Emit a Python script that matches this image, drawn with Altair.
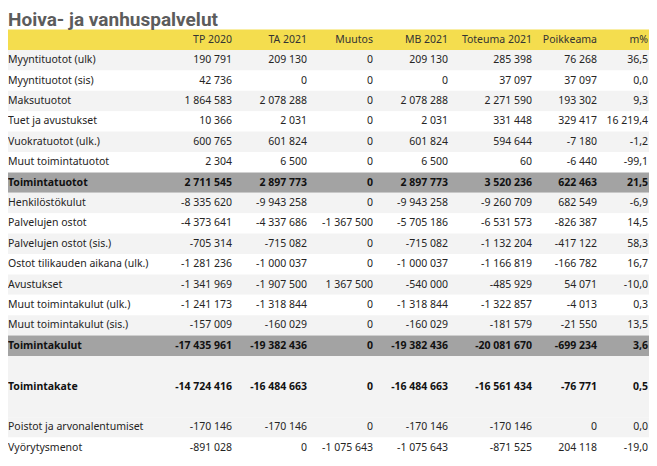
import altair as alt
import pandas as pd

title_text = "Hoiva- ja vanhuspalvelut"
columns = ["TP 2020", "TA 2021", "Muutos", "MB 2021", "Toteuma 2021", "Poikkeama", "m%"]
labels = [
    "Myyntituotot (ulk)", "Myyntituotot (sis)", "Maksutuotot", "Tuet ja avustukset",
    "Vuokratuotot (ulk.)", "Muut toimintatuotot", "Toimintatuotot", "Henkilöstökulut",
    "Palvelujen ostot", "Palvelujen ostot (sis.)", "Ostot tilikauden aikana (ulk.)",
    "Avustukset", "Muut toimintakulut (ulk.)", "Muut toimintakulut (sis.)", "Toimintakulut",
    "Toimintakate", "Poistot ja arvonalentumiset", "Vyörytysmenot",
]
tp2020 = [190791, 42736, 1864583, 10366, 600765, 2304, 2711545, -8335620, -4373641, -705314,
          -1281236, -1341969, -1241173, -157009, -17435961, -14724416, -170146, -891028]
ta2021 = [209130, 0, 2078288, 2031, 601824, 6500, 2897773, -9943258, -4337686, -715082,
          -1000037, -1907500, -1318844, -160029, -19382436, -16484663, -170146, 0]
muutos = [0, 0, 0, 0, 0, 0, 0, 0, -1367500, 0, 0, 1367500, 0, 0, 0, 0, 0, -1075643]
mb2021 = [209130, 0, 2078288, 2031, 601824, 6500, 2897773, -9943258, -5705186, -715082,
          -1000037, -540000, -1318844, -160029, -19382436, -16484663, -170146, -1075643]
toteuma = [285398, 37097, 2271590, 331448, 594644, 60, 3520236, -9260709, -6531573, -1132204,
           -1166819, -485929, -1322857, -181579, -20081670, -16561434, -170146, -871525]
poikkeama = [76268, 37097, 193302, 329417, -7180, -6440, 622463, 682549, -826387, -417122,
             -166782, 54071, -4013, -21550, -699234, -76771, 0, 204118]
mpct = [36.5, 0.0, 9.3, 16219.4, -1.2, -99.1, 21.5, -6.9, 14.5, 58.3, 16.7, -10.0, 0.3, 13.5,
        3.6, 0.5, 0.0, -19.0]
bold_rows = ["Toimintatuotot", "Toimintakulut", "Toimintakate"]
total_rows = ["Toimintatuotot", "Toimintakulut"]

# ---- layout (not data) ----
W, H = 641, 450
TOP = 42.0
RH = (H - TOP) / 20
slots = list(range(15)) + [16, 18, 19]
col_x = [224, 299, 365, 440, 524, 589, 640]
FONT = "Noto Sans"
FS = 10.5


def fmt_int(v):
    s = f"{abs(int(v)):,}".replace(",", " ")
    return ("-" if v < 0 else "") + s


def fmt_pct(v):
    n = int(round(abs(v) * 10))
    s = f"{n // 10:,}".replace(",", " ") + "," + str(n % 10)
    return ("-" if v < 0 else "") + s


def ypix(slot):
    return TOP + slot * RH


series = [tp2020, ta2021, muutos, mb2021, toteuma, poikkeama]
cells = []
for i, lab in enumerate(labels):
    for j, col in enumerate(columns):
        txt = fmt_pct(mpct[i]) if col == "m%" else fmt_int(series[j][i])
        cells.append({"row": lab, "col": col, "text": txt, "x": col_x[j],
                      "y": ypix(slots[i]) + RH / 2, "bold": lab in bold_rows})
cells_df = pd.DataFrame(cells)

label_df = pd.DataFrame({"row": labels, "y": [ypix(s) + RH / 2 for s in slots],
                         "bold": [l in bold_rows for l in labels]})
header_df = pd.DataFrame({"col": columns, "x": col_x, "y": [ypix(-1) + RH / 2 + 0.5] * len(columns)})

# background bands
bands = []
for i, lab in enumerate(labels):
    s = slots[i]
    if lab in total_rows:
        color = "#a3a3a3"
    elif lab == "Vyörytysmenot":
        color = "#ffffff"
    elif s >= 15:
        color = "#f3f3f3"
    else:
        k = s if s < 6 else s - 7
        color = "#f3f3f3" if k % 2 == 0 else "#ffffff"
    y0, y1 = ypix(s), ypix(s + 1)
    if lab == "Toimintakate":
        y0, y1 = ypix(15), ypix(18)
    bands.append({"row": lab, "y": y0, "y2": y1, "color": color})
bands.append({"row": "header", "y": ypix(-1), "y2": ypix(0), "color": "#f4dd4e"})
bands_df = pd.DataFrame(bands)

xs = alt.Scale(domain=[0, W], range=[0, W])
ys = alt.Scale(domain=[0, H], range=[0, H])

band_layer = alt.Chart(bands_df).mark_rect().encode(
    x=alt.value(0), x2=alt.value(W),
    y=alt.Y("y:Q", scale=ys, axis=None), y2="y2:Q",
    color=alt.Color("color:N", scale=None),
)

label_norm = alt.Chart(label_df).transform_filter("!datum.bold").mark_text(
    align="left", baseline="middle", font=FONT, fontSize=FS, color="#252423"
).encode(x=alt.value(0), y=alt.Y("y:Q", scale=ys, axis=None), text="row:N")
label_bold = alt.Chart(label_df).transform_filter("datum.bold").mark_text(
    align="left", baseline="middle", font=FONT, fontSize=FS, fontWeight="bold", color="#111111"
).encode(x=alt.value(0), y=alt.Y("y:Q", scale=ys, axis=None), text="row:N")

cell_norm = alt.Chart(cells_df).transform_filter("!datum.bold").mark_text(
    align="right", baseline="middle", font=FONT, fontSize=FS, color="#252423"
).encode(x=alt.X("x:Q", scale=xs, axis=None), y=alt.Y("y:Q", scale=ys, axis=None), text="text:N")
cell_bold = alt.Chart(cells_df).transform_filter("datum.bold").mark_text(
    align="right", baseline="middle", font=FONT, fontSize=FS, fontWeight="bold", color="#111111"
).encode(x=alt.X("x:Q", scale=xs, axis=None), y=alt.Y("y:Q", scale=ys, axis=None), text="text:N")

header_layer = alt.Chart(header_df).mark_text(
    align="right", baseline="middle", font=FONT, fontSize=FS, color="#333333"
).encode(x=alt.X("x:Q", scale=xs, axis=None), y=alt.Y("y:Q", scale=ys, axis=None), text="col:N")

title_layer = alt.Chart(pd.DataFrame({"t": [title_text]})).mark_text(
    align="left", baseline="alphabetic", font="Roboto", fontSize=19, fontWeight="bold", color="#5c5c5c"
).encode(x=alt.value(0), y=alt.value(18), text="t:N")

chart = alt.layer(
    band_layer, label_norm, label_bold, cell_norm, cell_bold, header_layer, title_layer
).properties(width=W, height=H, padding=0, autosize=alt.AutoSizeParams(type="none")
).configure_view(strokeWidth=0)

chart.save("out.html", embed_options={"renderer": "svg", "actions": False})
